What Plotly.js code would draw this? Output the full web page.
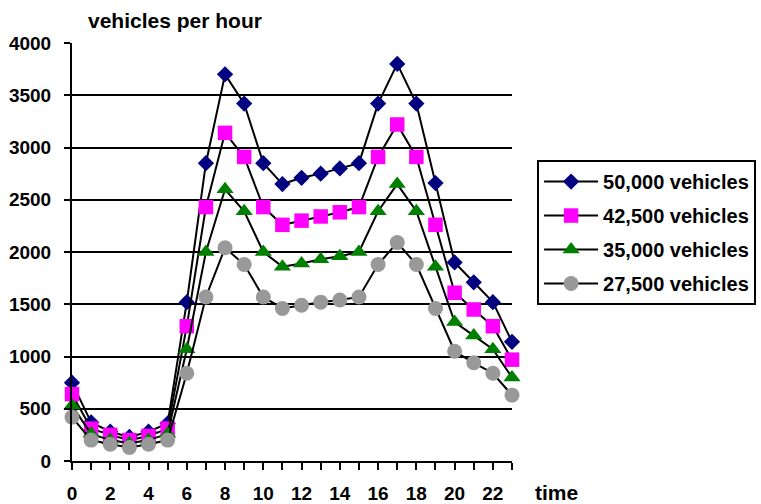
<!DOCTYPE html>
<html>
<head>
<meta charset="utf-8">
<script src="https://cdn.plot.ly/plotly-3.0.1.min.js"></script>
<style>html,body{margin:0;padding:0;background:#fff;}#chart{width:761px;height:504px;}</style>
</head>
<body>
<div id="chart"></div>
<script>
const hours = [0,1,2,3,4,5,6,7,8,9,10,11,12,13,14,15,16,17,18,19,20,21,22,23];
const tickLabels = ['0','','2','','4','','6','','8','','10','','12','','14','','16','','18','','20','','22',''];
const seriesNames = ['50,000 vehicles','42,500 vehicles','35,000 vehicles','27,500 vehicles'];
const v50000 = [750,370,280,230,280,360,1520,2850,3700,3420,2850,2650,2710,2750,2800,2850,3420,3800,3420,2660,1900,1710,1520,1140];
const v42500 = [640,310,250,200,240,310,1290,2430,3140,2910,2430,2260,2300,2340,2380,2430,2910,3220,2910,2260,1610,1450,1290,970];
const v35000 = [530,260,200,170,200,260,1070,2000,2600,2390,2000,1860,1890,1930,1960,2000,2390,2650,2390,1860,1330,1200,1070,800];
const v27500 = [420,200,160,130,160,200,840,1570,2040,1880,1570,1460,1490,1520,1540,1570,1880,2090,1880,1460,1050,940,840,630];

const fam = 'Liberation Sans, Arial, sans-serif';
const font = {family:fam, size:21, color:'#000', weight:'bold'};
const tickFont = {family:fam, size:19, color:'#000', weight:'bold'};
const styles = [
  {symbol:'diamond', color:'#000080', size:12.5},
  {symbol:'square', color:'#FF00FF', size:14.5},
  {symbol:'triangle-up', color:'#008000', size:15},
  {symbol:'circle', color:'#999999', size:15}
];
const allValues = [v50000, v42500, v35000, v27500];
const traces = allValues.map((vals,i)=>({
  x: hours, y: vals, name: seriesNames[i], type:'scatter', mode:'lines+markers',
  legendgroup:'g'+i,
  line:{color:'#000', width:2},
  marker:{symbol:styles[i].symbol, color:styles[i].color, size:styles[i].size, line:{width:0}},
  cliponaxis:false
}));

const layout = {
  width:761, height:504,
  margin:{l:72, r:249, t:43, b:43, pad:0, autoexpand:false},
  paper_bgcolor:'#fff', plot_bgcolor:'#fff',
  font: font,
  showlegend:true,
  legend:{x:1.057, y:0.720, xanchor:'left', yanchor:'top', bgcolor:'#fff', bordercolor:'#000', borderwidth:2,
    font:{family:fam, size:20, color:'#000', weight:'bold'}, tracegroupgap:5, itemwidth:54},
  xaxis:{range:[0,23], tickvals:hours, ticktext:tickLabels, ticks:'outside', ticklen:7, tickwidth:2, tickcolor:'#000',
    showline:true, linecolor:'#000', linewidth:2, showgrid:false, zeroline:false, ticklabelstandoff:7,
    tickfont:tickFont, fixedrange:true, automargin:false},
  yaxis:{range:[0,4000], dtick:500, ticks:'outside', ticklen:6, tickwidth:2, tickcolor:'#000',
    showline:true, linecolor:'#000', linewidth:2, showgrid:true, gridcolor:'#000', gridwidth:2, zeroline:false,
    tickfont:tickFont, ticklabelstandoff:9, fixedrange:true, automargin:false},
  annotations:[
    {text:'vehicles per hour', xref:'paper', yref:'paper', x:0.235, y:1.055, xanchor:'center', yanchor:'middle', showarrow:false, font:font},
    {text:'time', xref:'paper', yref:'paper', x:1.102, y:-0.076, xanchor:'center', yanchor:'middle', showarrow:false, font:font}
  ]
};
Plotly.newPlot('chart', traces, layout, {displayModeBar:false, staticPlot:true});
</script>
</body>
</html>
